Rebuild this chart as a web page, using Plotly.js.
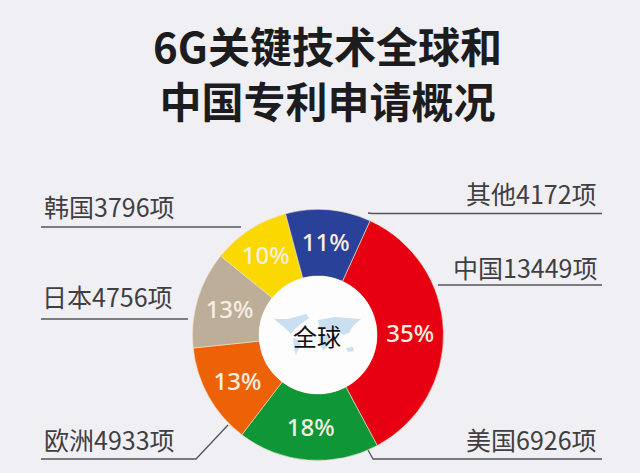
<!DOCTYPE html>
<html><head><meta charset="utf-8">
<script src="https://cdn.plot.ly/plotly-3.0.1.min.js"></script>
<style>html,body{margin:0;padding:0;background:#f0eff3}#c{width:640px;height:473px}</style></head>
<body><div id="c"></div>
<script>
const W = 640, H = 473;
const regions = ['中国','美国','欧洲','日本','韩国','其他'];
const patents = [13449,6926,4933,4756,3796,4172];
const colors = ['#e60012','#0f9637','#ee6207','#bcae98','#fad800','#2a4199'];
const titleLines = ['6G关键技术全球和','中国专利申请概况'];
const labelFont = 'Noto Sans CJK SC, sans-serif';
const px = x => x / W, py = y => 1 - y / H;
const cx = 318, cy = 335, R = 125.5, holeR = 59;

const labelPos = [[0,599,267,'right'],[1,599,439,'right'],[2,42,439,'left'],[3,40,296,'left'],[4,42,206,'left'],[5,599,193,'right']];
const annotations = labelPos.map(([i,x,y,a]) => ({
  x:px(x), y:py(y), xref:'paper', yref:'paper', xanchor:a, yanchor:'middle', showarrow:false,
  text:regions[i]+patents[i]+'项', font:{family:labelFont,size:25,color:'#3f3f43'}
}));
annotations.push({x:px(317),y:py(335),xref:'paper',yref:'paper',xanchor:'center',yanchor:'middle',showarrow:false,
  text:'全球',font:{family:labelFont,size:24,color:'#111'}});
annotations.push({x:px(327),y:py(72),xref:'paper',yref:'paper',xanchor:'center',yanchor:'middle',showarrow:false,
  text:'<b>'+titleLines.join('<br>')+'</b>',font:{family:labelFont,size:42,color:'#1c1c1e'}});

const leaders = [
 [[41,227],[241,227]],
 [[41,319],[188,319]],
 [[41,459],[196,459],[228,425]],
 [[368,213],[372,213.5],[602,213.5]],
 [[438,285],[602,285]],
 [[368,450],[373,459],[602,459]]
];
const shapes = leaders.map(p=>({type:'path',xref:'paper',yref:'paper',layer:'below',
  path:p.map((q,i)=>(i?'L':'M')+px(q[0])+','+py(q[1])).join(' '),line:{color:'#55545a',width:1.3}}));

// white centre disc and the faint world map behind the word 全球
shapes.push({type:'circle',xref:'paper',yref:'paper',layer:'above',x0:px(cx-holeR),x1:px(cx+holeR),y0:py(cy+holeR),y1:py(cy-holeR),
  fillcolor:'#fdfdfe',line:{color:'#fdfdfe',width:0}});
const land = [
 [[274,319],[288,319],[306,314],[309,318],[301,324],[295,329],[291,334],[286,329],[280,324]],
 [[293,338],[299,340],[301,345],[297,352],[296,356],[294,348]],
 [[318,320],[335,317],[361,319],[353,326],[349,333],[343,335],[337,331],[327,330],[319,327]],
 [[319,335],[327,335],[330,340],[327,348],[323,350],[320,343]],
 [[346,348],[353,347],[354,351],[348,352]]
];
land.forEach(p=>shapes.push({type:'path',xref:'paper',yref:'paper',layer:'above',opacity:0.6,
  path:p.map((q,i)=>(i?'L':'M')+px(q[0])+','+py(q[1])).join(' ')+' Z',fillcolor:'#a9cde6',line:{width:0}}));

Plotly.newPlot('c',[{
  type:'pie',labels:regions,values:patents,sort:false,direction:'clockwise',rotation:24.5,hole:0.47,
  marker:{colors:colors,line:{color:'#f3e3c8',width:0.6}},
  textinfo:'percent',texttemplate:'%{percent:.0%}',textposition:'inside',insidetextorientation:'horizontal',
  insidetextfont:{family:'Noto Sans, sans-serif',size:24,weight:500,color:'#f6efe2'},showlegend:false,hoverinfo:'label+value+percent',
  domain:{x:[px(cx-R),px(cx+R)],y:[py(cy+R),py(cy-R)]}
}],{
  width:W,height:H,margin:{l:0,r:0,t:0,b:0},paper_bgcolor:'#f0eff3',plot_bgcolor:'#f0eff3',
  annotations:annotations,shapes:shapes,showlegend:false
},{displayModeBar:false,staticPlot:true});
</script></body></html>
